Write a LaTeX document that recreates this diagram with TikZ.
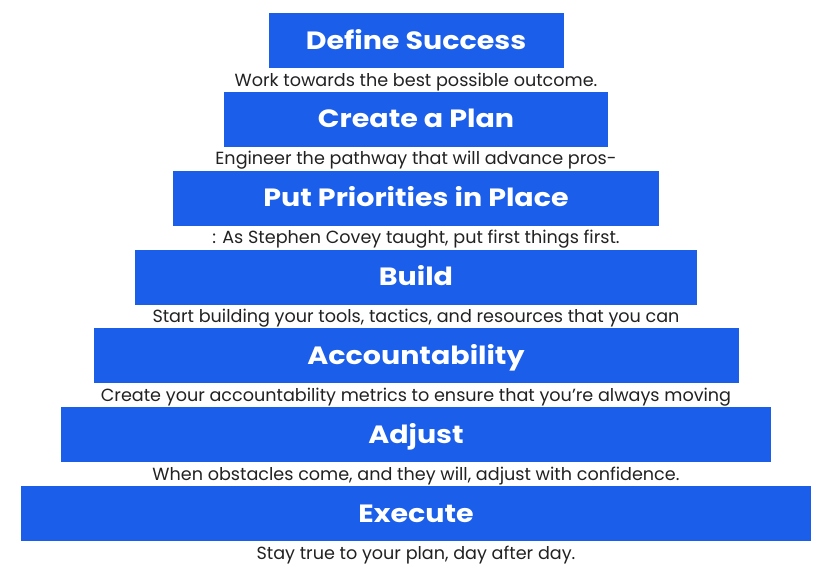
\documentclass[tikz,border=0pt]{standalone}
\usepackage{fontspec}
\setmainfont{Poppins}
\newfontfamily\ttlfont[FakeStretch=1.14]{Poppins}
\definecolor{barblue}{HTML}{1B5EEA}
\definecolor{desctext}{HTML}{222222}
\tikzset{
  bar/.style={fill=barblue, draw=none, inner sep=0pt, minimum height=55pt},
  desc/.style={inner sep=0pt, text=desctext, anchor=base, font=\fontsize{17.6}{20}\selectfont},
  ttl/.style={inner sep=0pt, text=white, anchor=base, font=\ttlfont\fontsize{25}{28}\selectfont\bfseries}
}
\begin{document}
\begin{tikzpicture}[x=1pt,y=-1pt]
\useasboundingbox (0,0) rectangle (830,576);
\fill[white] (0,0) rectangle (830,576);
% bars
\node[bar, minimum width=295pt] (b1) at (416,40.5) {};
\node[bar, minimum width=384pt] (b2) at (416,119.3) {};
\node[bar, minimum width=486pt] (b3) at (416,198.2) {};
\node[bar, minimum width=562pt] (b4) at (416,277.0) {};
\node[bar, minimum width=645pt] (b5) at (416,355.8) {};
\node[bar, minimum width=710pt] (b6) at (416,434.7) {};
\node[bar, minimum width=790pt] (b7) at (416,513.5) {};
% titles
\node[ttl] (t1) at (416,49) {Define Success};
\node[ttl] (t2) at (416,127.8) {Create a Plan};
\node[ttl] (t3) at (416,206.7) {Put Priorities in Place};
\node[ttl] (t4) at (416,285.5) {Build};
\node[ttl] (t5) at (416,364.3) {Accountability};
\node[ttl] (t6) at (416,443.2) {Adjust};
\node[ttl] (t7) at (416,522.0) {Execute};
% descriptions
\node[desc] (d1) at (416,86) {Work towards the best possible outcome.};
\node[desc] (d2) at (416,164.8) {Engineer the pathway that will advance pros-};
\node[desc] (d3) at (416,243.7) {: As Stephen Covey taught, put first things first.};
\node[desc] (d4) at (416,322.5) {Start building your tools, tactics, and resources that you can};
\node[desc] (d5) at (416,401.3) {Create your accountability metrics to ensure that you’re always moving};
\node[desc] (d6) at (416,480.2) {When obstacles come, and they will, adjust with confidence.};
\node[desc] (d7) at (416,559.0) {Stay true to your plan, day after day.};
\end{tikzpicture}
\end{document}
